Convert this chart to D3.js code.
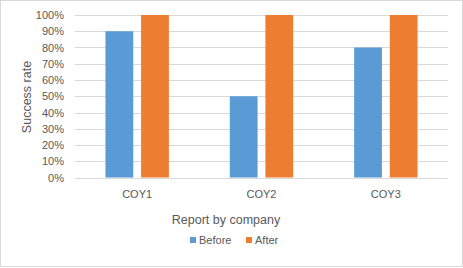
<!DOCTYPE html>
<html>
<head>
<meta charset="utf-8">
<script src="https://cdn.jsdelivr.net/npm/d3@7"></script>
<style>
body { margin: 0; background: #fff; }
text { font-family: "Liberation Sans", Arial, sans-serif; fill: #595959; }
</style>
</head>
<body>
<svg width="463" height="268"></svg>
<script>
// data
const companies = ["COY1", "COY2", "COY3"]
const seriesNames = ["Before", "After"]
const before = [0.9, 0.5, 0.8]
const after = [1, 1, 1]
const yTicks = [0, 0.1, 0.2, 0.3, 0.4, 0.5, 0.6, 0.7, 0.8, 0.9, 1]
const colors = ["#5B9BD5", "#ED7D31"]

const svg = d3.select("svg")

// chart border
svg.append("rect")
	.attr("x", 0.5).attr("y", 0.5)
	.attr("width", 462).attr("height", 266)
	.attr("fill", "#fff")
	.attr("stroke", "#d9d9d9")

const x = d3.scaleBand()
	.domain(companies)
	.range([75, 448])

const xInner = d3.scaleBand()
	.domain(seriesNames)
	.range([x.bandwidth()/2 - 31.7, x.bandwidth()/2 + 31.7])
	.paddingInner(0.22)

const y = d3.scaleLinear()
	.domain([0, 1])
	.range([177.5, 15])

//gridlines
svg.append("g")
	.selectAll("line")
	.data(yTicks)
	.enter()
	.append("line")
	.attr("x1", 75)
	.attr("x2", 448)
	.attr("y1", d => Math.round(y(d)) + 0.5)
	.attr("y2", d => Math.round(y(d)) + 0.5)
	.attr("stroke", "#d9d9d9")

//y axis labels
const yAxis = svg.append("g")
	.attr("transform", "translate(68,0)")
	.call(d3.axisLeft(y).tickValues(yTicks).tickFormat(d3.format(".0%")).tickSize(0).tickPadding(4))
yAxis.select(".domain").remove()
yAxis.selectAll("text").style("font-size", "11px").attr("fill", "#595959")

//bars
const rows = companies.map((c, i) => ({company: c, values: [before[i], after[i]]}))

const groups = svg.selectAll("g.company")
	.data(rows)
	.enter()
	.append("g")
	.attr("class", "company")
	.attr("transform", d => `translate(${x(d.company)},0)`)

groups.selectAll("rect")
	.data(d => d.values.map((v, j) => ({name: seriesNames[j], value: v, j: j})))
	.enter()
	.append("rect")
	.attr("x", d => xInner(d.name))
	.attr("y", d => y(d.value))
	.attr("width", xInner.bandwidth())
	.attr("height", d => y(0) - y(d.value))
	.attr("fill", d => colors[d.j])

//x axis labels
svg.selectAll("text.cat")
	.data(companies)
	.enter()
	.append("text")
	.attr("class", "cat")
	.attr("x", d => x(d) + x.bandwidth()/2)
	.attr("y", 198)
	.attr("text-anchor", "middle")
	.style("font-size", "11px")
	.text(d => d)

//axis titles
svg.append("text")
	.attr("x", 226)
	.attr("y", 224)
	.attr("text-anchor", "middle")
	.style("font-size", "12.5px")
	.text("Report by company")

svg.append("text")
	.attr("transform", "translate(31,97) rotate(-90)")
	.attr("text-anchor", "middle")
	.style("font-size", "12.5px")
	.text("Success rate")

//legend
const legendX = [190, 246]
const legend = svg.selectAll("g.legend")
	.data(seriesNames)
	.enter()
	.append("g")
	.attr("class", "legend")
	.attr("transform", (d, i) => `translate(${legendX[i]},237)`)

legend.append("rect")
	.attr("width", 6)
	.attr("height", 6)
	.attr("fill", (d, i) => colors[i])

legend.append("text")
	.attr("x", 9)
	.attr("y", 7)
	.style("font-size", "11px")
	.text(d => d)
</script>
</body>
</html>
